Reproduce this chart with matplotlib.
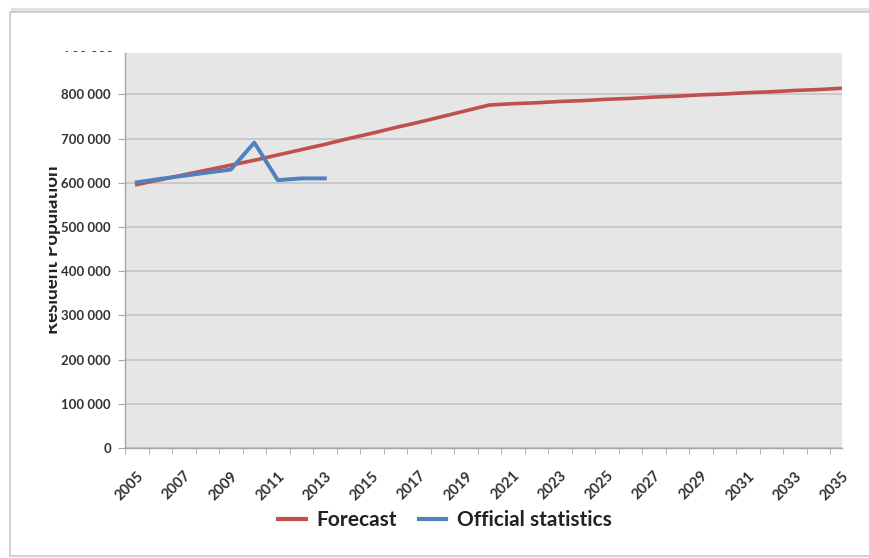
import matplotlib.pyplot as plt
import numpy as np
from matplotlib.patches import Rectangle
from matplotlib.transforms import Bbox, TransformedBbox

years = np.arange(2005, 2036)
forecast = [596000, 607000, 618000, 629000, 640000, 651000, 663000, 675000, 687000, 700000,
            712000, 725000, 737000, 750000, 763000, 776000, 779000, 781000, 784000, 786000,
            789000, 791000, 794000, 796000, 799000, 801000, 804000, 806000, 809000, 811000, 814000]
official_years = np.arange(2005, 2014)
official = [601000, 609000, 616000, 623000, 630000, 691000, 606000, 610000, 610000]

yticks = [0, 100000, 200000, 300000, 400000, 500000, 600000, 700000, 800000]
xlabels = list(range(2005, 2036, 2))

def fmt(v):
    return f"{v:,}".replace(",", " ")

fig = plt.figure(figsize=(8.69, 5.58), dpi=100)
fig.patch.set_facecolor('white')

# outer frame of the pasted chart
fig.patches.append(Rectangle((13 / 869, 4 / 558), 0.99, 544 / 558, transform=fig.transFigure,
                             facecolor='none', edgecolor='#e2e2e2', lw=3, zorder=-2))
fig.patches.append(Rectangle((10 / 869, 2 / 558), 0.99, 544 / 558, transform=fig.transFigure,
                             facecolor='white', edgecolor='#c8c8c8', lw=1.2, zorder=-1))

ax = fig.add_axes([125 / 869, 110 / 558, 717 / 869, 395 / 558])
ax.set_facecolor('#e6e6e6')
ax.set_ylim(0, 893700)
ax.set_xlim(2004.5, 2035.0)

ax.plot(years, forecast, color='#c0504d', lw=2.6, label='Forecast', zorder=3)
ax.plot(official_years, official, color='#4f81bd', lw=2.8, label='Official statistics', zorder=4)

ax.set_yticks(yticks)
ax.set_yticklabels([fmt(v) for v in yticks], fontfamily='Lato', fontweight='bold', fontsize=9.5,
                   color='#333333')
ax.yaxis.grid(True, color='#c4c4c4', lw=1.2)
ax.set_axisbelow(True)

ax.set_xticks(xlabels)
ax.set_xticklabels([str(x) for x in xlabels], rotation=45, ha='right', va='top',
                   rotation_mode='anchor', fontfamily='Lato', fontweight='bold', fontsize=10.5,
                   color='#333333')
ax.set_xticks(np.arange(2004.5, 2035.0, 1), minor=True)
ax.tick_params(axis='x', which='major', length=0, pad=15)
ax.tick_params(axis='x', which='minor', length=4, color='#a6a6a6', direction='out')
ax.tick_params(axis='y', length=5, color='#a6a6a6', direction='out', pad=5)

for s in ['top', 'right']:
    ax.spines[s].set_visible(False)
for s in ['left', 'bottom']:
    ax.spines[s].set_color('#a6a6a6')
    ax.spines[s].set_linewidth(1.0)

# clipped labels (chart was cropped)
clip = TransformedBbox(Bbox([[49 / 869, 0], [1, 1]]), fig.transFigure)
t1 = fig.text(53 / 869, 1 - 250 / 558, 'Resident Population', rotation=90, ha='center',
              va='center', fontfamily='Lato', fontweight='bold', fontsize=13.5, color='#222222')
t1.set_clip_on(True)
t1.set_clip_box(clip)
t2 = fig.text(114 / 869, 1 - 48 / 558, fmt(900000), ha='right', va='center', fontfamily='Lato',
              fontweight='bold', fontsize=9.5, color='#333333')
t2.set_clip_on(True)
t2.set_clip_box(TransformedBbox(Bbox([[0, 0], [1, 1 - 51 / 558]]), fig.transFigure))

leg = fig.legend(loc='center', bbox_to_anchor=(445 / 869, 1 - 520 / 558), ncol=2, frameon=False,
                 prop={'family': 'Lato', 'size': 15, 'weight': 'bold'}, handlelength=1.3,
                 columnspacing=1.1, handletextpad=0.5)
for txt in leg.get_texts():
    txt.set_color('#222222')
for h in leg.legend_handles:
    h.set_linewidth(3)

fig.savefig('out.png', dpi=100)
